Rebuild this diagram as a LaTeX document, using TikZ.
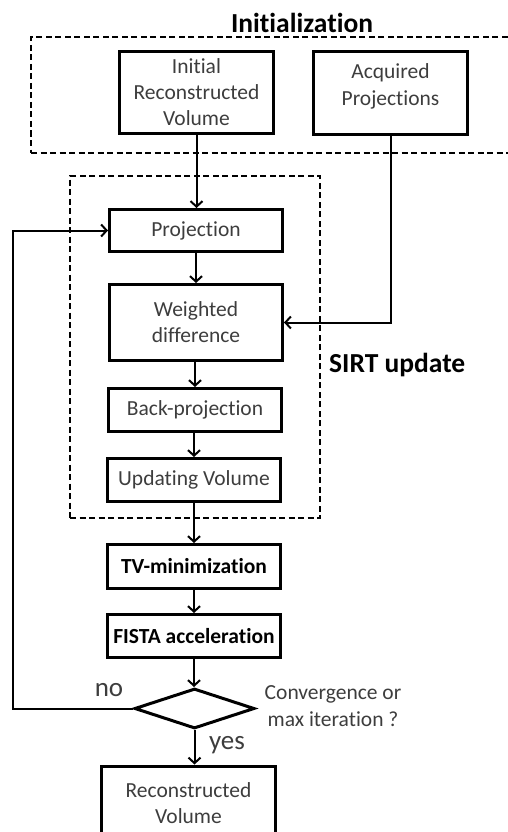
\documentclass[tikz,border=0pt]{standalone}
\usepackage{fontspec}
\setmainfont{Carlito}[Ligatures=NoCommon]
\usetikzlibrary{arrows.meta,shapes.geometric}
\definecolor{txt}{rgb}{0.24,0.24,0.24}
\begin{document}
\begin{tikzpicture}[x=1pt,y=-1pt,
  box/.style={draw, line width=3pt, text=txt, align=center, inner sep=0pt,
    font=\fontsize{21.5}{26}\selectfont},
  boldbox/.style={box, text=black, font=\fontsize{21.5}{26}\selectfont\bfseries},
  dashbox/.style={draw, line width=2pt, dash pattern=on 6pt off 3.5pt, inner sep=0pt},
  arr/.style={line width=2pt, -{Straight Barb[length=5.5pt,width=12pt]}},
  lbl/.style={text=txt, align=center, inner sep=0pt, font=\fontsize{21.5}{27}\selectfont},
  big/.style={text=txt, inner sep=0pt, font=\fontsize{27}{30}\selectfont},
  head/.style={inner sep=0pt, font=\fontsize{27.5}{30}\selectfont\bfseries}
]
\clip (0,0) rectangle (508,832);
\useasboundingbox (0,0) rectangle (508,832);

% group frames
\node[dashbox, minimum width=489pt, minimum height=116pt] (initgrp) at (275.5,95) {};
\node[dashbox, minimum width=250pt, minimum height=342pt] (sirtgrp) at (195,347) {};

% titles
\node[head] (inittitle) at (302,23) {Initialization};
\node[head, anchor=west] (sirt) at (329,365) {SIRT update};

% boxes
\node[box, minimum width=154pt, minimum height=82pt] (init) at (196.5,92.5) {Initial\\Reconstructed\\Volume};
\node[box, minimum width=154pt, minimum height=83pt,
  label={[lbl, yshift=6.5pt, font=\fontsize{21.5}{27}\selectfont]center:{Acquired\\Projections}}] (acq) at (390.5,93) {};
\node[box, minimum width=173pt, minimum height=42pt] (proj) at (196,230.5) {Projection};
\node[box, minimum width=173pt, minimum height=76pt] (wdiff) at (196,322.5) {Weighted\\difference};
\node[box, minimum width=173pt, minimum height=43pt] (back) at (195,410) {Back-projection};
\node[box, minimum width=173pt, minimum height=43pt] (upd) at (194,480) {Updating Volume};
\node[boldbox, minimum width=173pt, minimum height=44pt] (tv) at (194,566.5) {TV-minimization};
\node[boldbox, minimum width=173pt, minimum height=43pt] (fista) at (194,636) {FISTA acceleration};
\node[draw, diamond, line width=3pt, inner sep=0pt, minimum width=120pt, minimum height=40pt] (dia) at (194.5,708.5) {};
\node[box, minimum width=174pt, minimum height=74pt] (recon) at (188.5,803) {Reconstructed\\Volume};

% labels
\node[big] (no) at (109,690) {no};
\node[big] (yes) at (227,745) {yes};
\node[lbl] (cond) at (333,706) {Convergence or\\max iteration ?};

% connectors
\coordinate (fb) at (13,708.5);
\draw[arr] (init.south) -- (init.south |- proj.north);
\draw[arr] (proj.south) -- (proj.south |- wdiff.north);
\draw[arr] (wdiff.south -| back.north) -- (back.north);
\draw[arr] (back.south -| upd.north) -- (upd.north);
\draw[arr] (upd.south) -- (upd.south |- tv.north);
\draw[arr] (tv.south) -- (tv.south |- fista.north);
\draw[arr] (fista.south) -- (fista.south |- dia.north);
\draw[arr] (dia.south) -- (dia.south |- recon.north);
\draw[arr] (acq.south) |- (wdiff.east);
\draw[arr] (dia.west) -- (fb) |- (proj.west);
\end{tikzpicture}
\end{document}
